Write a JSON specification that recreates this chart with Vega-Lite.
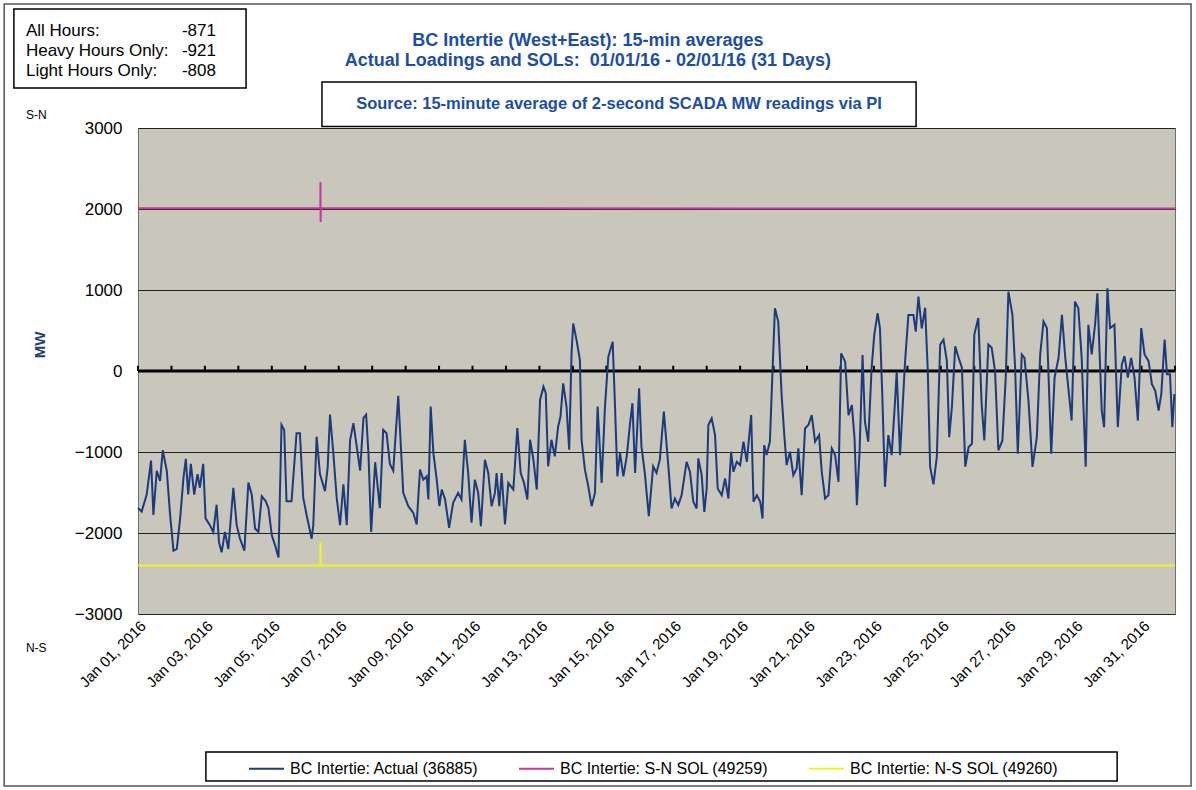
{
 "$schema": "https://vega.github.io/schema/vega-lite/v6.json",
 "width": 1037,
 "height": 486,
 "autosize": {"type": "none"},
 "padding": {"left": 138, "top": 128, "right": 21, "bottom": 176},
 "background": "white",
 "config": {
  "font": "Liberation Sans",
  "view": {"fill": "#c9c6bb", "stroke": "#6e6e6e", "strokeWidth": 1}
 },
 "layer": [
  {
   "data": {"values": [{}]},
   "mark": {"type": "rect", "fill": "transparent", "stroke": "#555555", "strokeWidth": 1.5, "clip": false},
   "encoding": {"x": {"datum": -4.0}, "x2": {"datum": 31.48}, "y": {"datum": 4531}, "y2": {"datum": -5124}}
  },
  {
   "data": {"values": [{}]},
   "mark": {"type": "rect", "fill": "transparent", "stroke": "black", "strokeWidth": 1.5, "clip": false},
   "encoding": {"x": {"datum": -3.71}, "x2": {"datum": 3.23}, "y": {"datum": 4469}, "y2": {"datum": 3494}}
  },
  {
   "data": {"values": [{}]},
   "mark": {"type": "rect", "fill": "transparent", "stroke": "black", "strokeWidth": 1.5, "clip": false},
   "encoding": {"x": {"datum": 5.5}, "x2": {"datum": 23.26}, "y": {"datum": 3568}, "y2": {"datum": 3020}}
  },
  {
   "data": {"values": [{}]},
   "mark": {"type": "rect", "fill": "transparent", "stroke": "black", "strokeWidth": 1.5, "clip": false},
   "encoding": {"x": {"datum": 2.03}, "x2": {"datum": 29.27}, "y": {"datum": -4704}, "y2": {"datum": -5062}}
  },
  {
   "data": {"values": [{}]},
   "mark": {"type": "text", "align": "center", "baseline": "top", "fontSize": 18, "fontWeight": "bold", "lineHeight": 20, "color": "#1c4ea6", "clip": false},
   "encoding": {"x": {"datum": 13.45}, "y": {"datum": 4185}, "text": {"value": ["BC Intertie (West+East): 15-min averages", "Actual Loadings and SOLs:\u00a0 01/01/16 - 02/01/16 (31 Days)"]}}
  },
  {
   "data": {"values": [{}]},
   "mark": {"type": "text", "align": "left", "baseline": "top", "fontSize": 17, "lineHeight": 20, "color": "black", "clip": false},
   "encoding": {"x": {"datum": -3.35}, "y": {"datum": 4302}, "text": {"value": ["All Hours:", "Heavy Hours Only:", "Light Hours Only:"]}}
  },
  {
   "data": {"values": [{}]},
   "mark": {"type": "text", "align": "right", "baseline": "top", "fontSize": 17, "lineHeight": 20, "color": "black", "clip": false},
   "encoding": {"x": {"datum": 2.33}, "y": {"datum": 4302}, "text": {"value": ["-871", "-921", "-808"]}}
  },
  {
   "data": {"values": [{}]},
   "mark": {"type": "text", "align": "left", "baseline": "middle", "fontSize": 12, "color": "black", "clip": false},
   "encoding": {"x": {"datum": -3.35}, "y": {"datum": 3160}, "text": {"value": "S-N"}}
  },
  {
   "data": {"values": [{}]},
   "mark": {"type": "text", "align": "left", "baseline": "middle", "fontSize": 12, "color": "black", "clip": false},
   "encoding": {"x": {"datum": -3.35}, "y": {"datum": -3420}, "text": {"value": "N-S"}}
  },
  {
   "data": {"values": [{}]},
   "mark": {"type": "text", "align": "center", "baseline": "middle", "angle": 270, "fontSize": 15, "fontWeight": "bold", "color": "#1f3c78", "clip": false},
   "encoding": {"x": {"datum": -2.93}, "y": {"datum": 321}, "text": {"value": "MW"}}
  },
  {
   "data": {"values": [{}]},
   "mark": {"type": "text", "align": "center", "baseline": "middle", "fontSize": 16.5, "fontWeight": "bold", "color": "#1c4ea6", "clip": false},
   "encoding": {"x": {"datum": 14.38}, "y": {"datum": 3296}, "text": {"value": "Source: 15-minute average of 2-second SCADA MW readings via PI"}}
  },
  {
   "data": {"values": [{}]},
   "mark": {"type": "rule", "color": "black", "strokeWidth": 3},
   "encoding": {"x": {"datum": 0}, "x2": {"datum": 31}, "y": {"datum": 0}}
  },
  {
   "data": {"values": [
    {"day":0},{"day":1},{"day":2},{"day":3},{"day":4},{"day":5},{"day":6},{"day":7},{"day":8},{"day":9},{"day":10},
    {"day":11},{"day":12},{"day":13},{"day":14},{"day":15},{"day":16},{"day":17},{"day":18},{"day":19},{"day":20},
    {"day":21},{"day":22},{"day":23},{"day":24},{"day":25},{"day":26},{"day":27},{"day":28},{"day":29},{"day":30},{"day":31}
   ]},
   "mark": {"type": "rule", "color": "black", "strokeWidth": 2},
   "encoding": {"x": {"field": "day", "type": "quantitative", "title": null}, "y": {"datum": 0}, "y2": {"datum": 65}}
  },
  {
   "data": {"values": [
    {"day":0,"mw":2010},{"day":5.45,"mw":2010},{"day":5.455,"mw":2330},{"day":5.46,"mw":1840},{"day":5.465,"mw":2010},{"day":31,"mw":2005}
   ]},
   "mark": {"type": "line", "strokeWidth": 2},
   "encoding": {
    "x": {"field": "day", "type": "quantitative", "title": null},
    "y": {"field": "mw", "type": "quantitative", "title": null},
    "color": {"datum": "BC Intertie: S-N SOL (49259)"}
   }
  },
  {
   "data": {"values": [
    {"day":0,"mw":-2400},{"day":5.45,"mw":-2400},{"day":5.455,"mw":-2110},{"day":5.46,"mw":-2400},{"day":31,"mw":-2400}
   ]},
   "mark": {"type": "line", "strokeWidth": 2},
   "encoding": {
    "x": {"field": "day", "type": "quantitative", "title": null},
    "y": {"field": "mw", "type": "quantitative", "title": null},
    "color": {"datum": "BC Intertie: N-S SOL (49260)"}
   }
  },
  {
   "data": {"values": [
    {"day":0,"mw":-1690},{"day":0.11,"mw":-1735},{"day":0.26,"mw":-1525},{"day":0.39,"mw":-1105},{"day":0.46,"mw":-1777},{"day":0.56,"mw":-1231},{"day":0.66,"mw":-1357},{"day":0.74,"mw":-979},{"day":0.86,"mw":-1231},{"day":0.96,"mw":-1777},
    {"day":1.06,"mw":-2218},{"day":1.16,"mw":-2197},{"day":1.26,"mw":-1819},{"day":1.36,"mw":-1315},{"day":1.43,"mw":-1084},{"day":1.5,"mw":-1525},{"day":1.58,"mw":-1147},{"day":1.68,"mw":-1525},{"day":1.78,"mw":-1273},{"day":1.85,"mw":-1441},{"day":1.95,"mw":-1147},
    {"day":2.02,"mw":-1819},{"day":2.15,"mw":-1903},{"day":2.25,"mw":-1987},{"day":2.35,"mw":-1651},{"day":2.42,"mw":-2113},{"day":2.5,"mw":-2239},{"day":2.6,"mw":-1987},{"day":2.7,"mw":-2197},{"day":2.85,"mw":-1441},{"day":2.95,"mw":-1903},
    {"day":3.05,"mw":-2071},{"day":3.18,"mw":-2218},{"day":3.3,"mw":-1378},{"day":3.4,"mw":-1525},{"day":3.5,"mw":-1945},{"day":3.6,"mw":-1987},{"day":3.7,"mw":-1546},{"day":3.82,"mw":-1609},{"day":3.9,"mw":-1693},
    {"day":4.0,"mw":-2029},{"day":4.1,"mw":-2155},{"day":4.2,"mw":-2302},{"day":4.29,"mw":-664},{"day":4.37,"mw":-727},{"day":4.44,"mw":-1609},{"day":4.59,"mw":-1609},{"day":4.74,"mw":-769},{"day":4.84,"mw":-769},{"day":4.94,"mw":-1567},
    {"day":5.04,"mw":-1777},{"day":5.19,"mw":-2071},{"day":5.24,"mw":-1903},{"day":5.34,"mw":-811},{"day":5.44,"mw":-1273},{"day":5.59,"mw":-1483},{"day":5.67,"mw":-1189},{"day":5.74,"mw":-538},{"day":5.84,"mw":-1021},{"day":5.94,"mw":-1567},
    {"day":6.04,"mw":-1903},{"day":6.14,"mw":-1399},{"day":6.24,"mw":-1903},{"day":6.34,"mw":-853},{"day":6.44,"mw":-643},{"day":6.54,"mw":-937},{"day":6.64,"mw":-1231},{"day":6.74,"mw":-580},{"day":6.82,"mw":-538},{"day":6.89,"mw":-1021},{"day":6.97,"mw":-1987},
    {"day":7.09,"mw":-1126},{"day":7.23,"mw":-1693},{"day":7.33,"mw":-727},{"day":7.43,"mw":-769},{"day":7.53,"mw":-1147},{"day":7.63,"mw":-1231},{"day":7.78,"mw":-307},{"day":7.93,"mw":-1505},
    {"day":8.08,"mw":-1669},{"day":8.23,"mw":-1751},{"day":8.33,"mw":-1894},{"day":8.43,"mw":-1218},{"day":8.53,"mw":-1341},{"day":8.63,"mw":-1300},{"day":8.68,"mw":-1587},{"day":8.75,"mw":-439},{"day":8.83,"mw":-1013},{"day":8.93,"mw":-1341},
    {"day":9.01,"mw":-1669},{"day":9.08,"mw":-1464},{"day":9.18,"mw":-1587},{"day":9.3,"mw":-1935},{"day":9.42,"mw":-1628},{"day":9.57,"mw":-1505},{"day":9.67,"mw":-1587},{"day":9.77,"mw":-849},{"day":9.87,"mw":-1259},{"day":9.97,"mw":-1874},
    {"day":10.07,"mw":-1341},{"day":10.17,"mw":-1505},{"day":10.25,"mw":-1915},{"day":10.37,"mw":-1095},{"day":10.47,"mw":-1259},{"day":10.57,"mw":-1669},{"day":10.67,"mw":-1505},{"day":10.72,"mw":-1259},{"day":10.8,"mw":-1669},{"day":10.87,"mw":-1259},{"day":10.97,"mw":-1894},
    {"day":11.07,"mw":-1382},{"day":11.22,"mw":-1464},{"day":11.34,"mw":-705},{"day":11.44,"mw":-1259},{"day":11.54,"mw":-1382},{"day":11.64,"mw":-1587},{"day":11.72,"mw":-849},{"day":11.82,"mw":-1095},{"day":11.92,"mw":-1464},
    {"day":12.02,"mw":-357},{"day":12.12,"mw":-193},{"day":12.19,"mw":-275},{"day":12.26,"mw":-1177},{"day":12.36,"mw":-849},{"day":12.46,"mw":-1054},{"day":12.56,"mw":-685},{"day":12.63,"mw":-562},{"day":12.71,"mw":-152},{"day":12.81,"mw":-439},{"day":12.89,"mw":-972},{"day":12.96,"mw":217},
    {"day":13.01,"mw":586},{"day":13.11,"mw":381},{"day":13.21,"mw":135},{"day":13.26,"mw":-849},{"day":13.36,"mw":-1218},{"day":13.46,"mw":-1423},{"day":13.56,"mw":-1669},{"day":13.66,"mw":-1505},{"day":13.74,"mw":-439},{"day":13.86,"mw":-1382},{"day":13.96,"mw":-439},
    {"day":14.06,"mw":176},{"day":14.19,"mw":361},{"day":14.26,"mw":-439},{"day":14.33,"mw":-1300},{"day":14.41,"mw":-1013},{"day":14.51,"mw":-1300},{"day":14.61,"mw":-1054},{"day":14.71,"mw":-644},{"day":14.78,"mw":-398},{"day":14.86,"mw":-1259},{"day":14.98,"mw":-213},
    {"day":15.05,"mw":-931},{"day":15.15,"mw":-1259},{"day":15.27,"mw":-1792},{"day":15.4,"mw":-1177},{"day":15.5,"mw":-1259},{"day":15.6,"mw":-1095},{"day":15.72,"mw":-500},{"day":15.86,"mw":-1203},{"day":15.95,"mw":-1697},
    {"day":16.05,"mw":-1574},{"day":16.15,"mw":-1656},{"day":16.25,"mw":-1533},{"day":16.4,"mw":-1121},{"day":16.5,"mw":-1244},{"day":16.6,"mw":-1615},{"day":16.7,"mw":-1697},{"day":16.75,"mw":-1079},{"day":16.85,"mw":-1285},{"day":16.93,"mw":-1739},
    {"day":17.0,"mw":-1450},{"day":17.05,"mw":-667},{"day":17.15,"mw":-585},{"day":17.25,"mw":-791},{"day":17.33,"mw":-1450},{"day":17.45,"mw":-1533},{"day":17.55,"mw":-1327},{"day":17.65,"mw":-1574},{"day":17.73,"mw":-997},{"day":17.8,"mw":-1244},{"day":17.9,"mw":-1121},
    {"day":18.0,"mw":-1162},{"day":18.1,"mw":-873},{"day":18.2,"mw":-1121},{"day":18.33,"mw":-544},{"day":18.4,"mw":-1615},{"day":18.5,"mw":-1533},{"day":18.6,"mw":-1615},{"day":18.67,"mw":-1821},{"day":18.72,"mw":-915},{"day":18.79,"mw":-1038},{"day":18.89,"mw":-873},{"day":18.96,"mw":-91},
    {"day":19.04,"mw":775},{"day":19.14,"mw":610},{"day":19.24,"mw":-297},{"day":19.32,"mw":-791},{"day":19.39,"mw":-1162},{"day":19.49,"mw":-997},{"day":19.59,"mw":-1285},{"day":19.69,"mw":-1203},{"day":19.74,"mw":-956},{"day":19.84,"mw":-1533},{"day":19.94,"mw":-709},
    {"day":20.04,"mw":-667},{"day":20.14,"mw":-544},{"day":20.24,"mw":-873},{"day":20.36,"mw":-791},{"day":20.44,"mw":-1244},{"day":20.54,"mw":-1574},{"day":20.64,"mw":-1533},{"day":20.74,"mw":-956},{"day":20.84,"mw":-1038},{"day":20.94,"mw":-1368},
    {"day":21.02,"mw":218},{"day":21.14,"mw":115},{"day":21.24,"mw":-544},{"day":21.34,"mw":-420},{"day":21.42,"mw":-832},{"day":21.49,"mw":-1656},{"day":21.57,"mw":-997},{"day":21.66,"mw":198},{"day":21.73,"mw":-626},{"day":21.83,"mw":-873},{"day":21.93,"mw":33},
    {"day":22.01,"mw":445},{"day":22.11,"mw":713},{"day":22.18,"mw":527},{"day":22.25,"mw":-297},{"day":22.33,"mw":-1430},{"day":22.43,"mw":-791},{"day":22.53,"mw":-1038},{"day":22.63,"mw":-379},{"day":22.68,"mw":-8},{"day":22.78,"mw":-1038},{"day":22.85,"mw":-503},{"day":22.93,"mw":115},
    {"day":23.03,"mw":692},{"day":23.18,"mw":692},{"day":23.25,"mw":486},{"day":23.33,"mw":918},{"day":23.43,"mw":527},{"day":23.53,"mw":780},{"day":23.61,"mw":0},{"day":23.68,"mw":-1183},{"day":23.78,"mw":-1400},{"day":23.88,"mw":-1061},{"day":23.98,"mw":326},
    {"day":24.08,"mw":388},{"day":24.18,"mw":122},{"day":24.25,"mw":-816},{"day":24.33,"mw":-449},{"day":24.43,"mw":306},{"day":24.53,"mw":163},{"day":24.63,"mw":41},{"day":24.73,"mw":-1183},{"day":24.83,"mw":-939},{"day":24.93,"mw":-898},
    {"day":25.0,"mw":449},{"day":25.12,"mw":653},{"day":25.22,"mw":-408},{"day":25.3,"mw":-857},{"day":25.42,"mw":326},{"day":25.52,"mw":286},{"day":25.62,"mw":0},{"day":25.72,"mw":-979},{"day":25.84,"mw":-857},{"day":25.94,"mw":-82},
    {"day":26.02,"mw":979},{"day":26.14,"mw":694},{"day":26.22,"mw":41},{"day":26.3,"mw":-1020},{"day":26.42,"mw":204},{"day":26.5,"mw":163},{"day":26.62,"mw":-367},{"day":26.74,"mw":-1183},{"day":26.87,"mw":-816},{"day":26.97,"mw":204},
    {"day":27.07,"mw":612},{"day":27.17,"mw":530},{"day":27.3,"mw":-1020},{"day":27.4,"mw":-82},{"day":27.52,"mw":163},{"day":27.62,"mw":694},{"day":27.72,"mw":163},{"day":27.82,"mw":-245},{"day":27.91,"mw":-612},
    {"day":28.01,"mw":857},{"day":28.11,"mw":775},{"day":28.21,"mw":163},{"day":28.33,"mw":-1183},{"day":28.41,"mw":571},{"day":28.51,"mw":204},{"day":28.61,"mw":571},{"day":28.68,"mw":959},{"day":28.81,"mw":-490},{"day":28.88,"mw":-694},{"day":28.98,"mw":1020},
    {"day":29.06,"mw":530},{"day":29.19,"mw":571},{"day":29.29,"mw":-694},{"day":29.41,"mw":82},{"day":29.49,"mw":184},{"day":29.59,"mw":-82},{"day":29.69,"mw":163},{"day":29.79,"mw":-82},{"day":29.89,"mw":-612},{"day":29.99,"mw":530},
    {"day":30.09,"mw":204},{"day":30.21,"mw":122},{"day":30.31,"mw":-163},{"day":30.41,"mw":-245},{"day":30.51,"mw":-490},{"day":30.59,"mw":-286},{"day":30.69,"mw":388},{"day":30.76,"mw":-41},{"day":30.85,"mw":-41},{"day":30.92,"mw":-694},{"day":30.98,"mw":-286}
   ]},
   "mark": {"type": "line", "strokeWidth": 2},
   "encoding": {
    "x": {"field": "day", "type": "quantitative", "title": null,
     "scale": {"domain": [0, 31], "nice": false, "zero": false},
     "axis": {"orient": "bottom", "values": [0,2,4,6,8,10,12,14,16,18,20,22,24,26,28,30],
      "labelExpr": "timeFormat(datetime(2016, 0, 1 + datum.value), '%b %d, %Y')",
      "labelAngle": -45, "labelFontSize": 15, "labelColor": "black", "labelPadding": 4,
      "labelOverlap": false, "ticks": false, "domain": false, "grid": false, "title": null}},
    "y": {"field": "mw", "type": "quantitative", "title": null,
     "scale": {"domain": [-3000, 3000], "nice": false},
     "axis": {"orient": "left", "values": [-3000,-2000,-1000,0,1000,2000,3000], "format": "d",
      "grid": true, "gridColor": "#222222", "gridWidth": 1, "domain": false, "ticks": false,
      "labelFontSize": 17, "labelColor": "black", "labelPadding": 16, "title": null}},
    "color": {"datum": "BC Intertie: Actual (36885)", "type": "nominal",
     "scale": {"domain": ["BC Intertie: Actual (36885)", "BC Intertie: S-N SOL (49259)", "BC Intertie: N-S SOL (49260)"],
      "range": ["#1d3b7b", "#c8399f", "#f2f22a"]},
     "legend": {"orient": "none", "legendX": 110, "legendY": 622, "direction": "horizontal", "columns": 3,
      "symbolType": "stroke", "symbolSize": 1225, "symbolStrokeWidth": 2, "labelFontSize": 16,
      "labelColor": "black", "labelLimit": 400, "columnPadding": 36, "labelOffset": 5, "padding": 0, "title": null}}
   }
  }
 ]
}
